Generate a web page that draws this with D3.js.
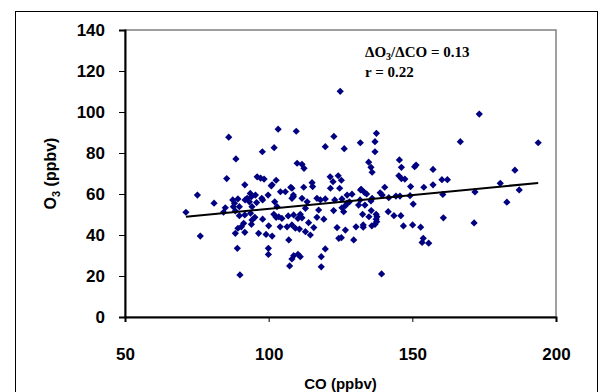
<!DOCTYPE html>
<html>
<head>
<meta charset="utf-8">
<script src="https://cdn.jsdelivr.net/npm/d3@7"></script>
<style>
  html, body { margin: 0; padding: 0; background: #fff; }
  svg { display: block; }
</style>
</head>
<body>
<div id="chart"></div>
<script>
// CO (ppbv) of each sample
const co = [
  71.2, 75.2, 76.2, 81.0, 84.9, 84.3, 86.1, 85.4, 87.5, 88.1,
  89.3, 89.8, 88.4, 89.8, 91.7, 91.3, 89.3, 88.4, 90.5, 91.7,
  89.1, 90.0, 88.6, 91.7, 92.5, 93.3, 94.2, 93.6, 94.0, 95.4,
  97.9, 99.8, 100.9, 102.1, 104.1, 102.9, 94.2, 94.0, 97.9, 100.0,
  96.5, 99.1, 101.2, 99.9, 99.9, 101.8, 103.5, 104.6, 106.4, 107.0,
  107.3, 108.1, 108.1, 105.8, 108.1, 97.8, 101.9, 103.3, 96.0, 97.2,
  98.4, 102.6, 101.2, 107.7, 124.9, 109.6, 122.7, 119.7, 126.3, 131.9,
  137.5, 137.0, 137.0, 166.7, 109.9, 111.6, 112.3, 134.8, 135.6, 136.0,
  145.5, 146.2, 150.8, 151.3, 157.2, 121.4, 124.2, 122.4, 125.3, 145.3,
  146.2, 147.4, 160.3, 162.2, 115.1, 115.3, 112.2, 121.5, 124.7, 132.2,
  140.4, 149.4, 154.0, 157.2, 173.3, 193.8, 185.7, 180.6, 160.6, 171.8,
  187.2, 182.9, 160.8, 171.5, 132.0, 133.3, 134.1, 138.8, 139.5, 144.3,
  145.7, 149.2, 131.8, 133.5, 135.6, 150.3, 141.6, 143.6, 146.0, 135.7,
  132.7, 134.9, 137.4, 137.4, 132.9, 132.9, 135.9, 137.0, 137.6, 146.9,
  150.1, 152.9, 153.8, 153.4, 155.7, 139.3, 127.3, 129.0, 141.8, 108.6,
  111.6, 113.4, 116.8, 118.0, 119.7, 123.0, 125.5, 127.3, 126.7, 128.1,
  131.3, 136.0, 112.8, 117.4, 122.6, 126.1, 125.5, 137.7, 108.7, 111.0,
  110.2, 111.6, 113.9, 116.8, 119.2, 108.1, 109.3, 110.7, 112.8, 114.5,
  115.7, 123.8, 126.7, 130.4, 124.4, 125.3, 129.6, 119.7, 118.3, 118.3,
  108.7, 110.2, 111.0, 95.8, 102.6, 106.8, 104.0, 108.6, 97.6, 87.7,
  91.8, 93.7, 95.2
];
// O3 (ppbv) of each sample
const o3 = [
  51.1, 59.5, 39.5, 55.5, 53.3, 51.1, 87.7, 67.5, 57.1, 55.5,
  57.6, 53.8, 51.7, 49.4, 49.8, 45.7, 43.3, 40.8, 44.0, 41.3,
  33.5, 20.5, 77.1, 64.5, 57.9, 56.2, 53.8, 60.3, 58.7, 59.5,
  57.1, 59.5, 64.0, 56.2, 61.1, 53.8, 47.3, 45.2, 47.7, 44.5,
  40.8, 40.3, 39.5, 33.5, 30.5, 50.1, 48.9, 48.1, 44.0, 37.6,
  24.9, 28.3, 62.8, 61.1, 57.9, 80.6, 82.6, 91.6, 68.4, 67.7,
  67.3, 66.7, 64.5, 63.3, 110.1, 90.6, 88.1, 83.1, 82.1, 85.0,
  89.6, 85.5, 80.6, 85.5, 75.0, 74.5, 72.5, 75.5, 73.0, 70.6,
  76.6, 73.0, 73.3, 74.1, 72.0, 68.4, 68.9, 66.0, 66.7, 68.9,
  67.5, 67.3, 67.0, 67.0, 65.5, 63.6, 63.3, 62.8, 62.8, 62.3,
  63.3, 63.6, 63.3, 64.5, 99.0, 85.0, 71.6, 65.2, 59.8, 61.0,
  62.0, 56.0, 48.4, 45.9, 62.0, 60.8, 60.0, 60.6, 59.5, 59.0,
  59.0, 59.2, 57.1, 54.6, 56.6, 55.1, 51.4, 49.4, 49.4, 51.9,
  50.1, 48.9, 50.1, 47.7, 44.9, 43.8, 44.5, 45.2, 46.5, 44.4,
  44.9, 43.8, 38.4, 36.4, 36.0, 21.0, 59.5, 59.9, 58.2, 58.7,
  57.9, 56.2, 57.9, 57.1, 57.6, 57.1, 57.6, 55.5, 54.3, 56.2,
  54.6, 57.9, 53.0, 52.2, 51.9, 51.4, 53.3, 48.9, 49.8, 50.1,
  48.1, 48.4, 46.0, 48.6, 47.7, 44.9, 43.3, 42.9, 41.6, 40.0,
  43.6, 43.6, 42.4, 44.0, 38.4, 38.7, 37.6, 33.2, 29.4, 24.5,
  29.9, 30.6, 29.4, 55.8, 48.6, 49.3, 44.0, 59.5, 57.9, 53.8,
  57.1, 50.6, 48.6
];

const xTicks = [50, 100, 150, 200];
const yTicks = [0, 20, 40, 60, 80, 100, 120, 140];

// linear fit shown on the chart
const fitSlope = 0.134;
const fitIntercept = 39.4;
const fitText = ['ΔO', '3', '/ΔCO = 0.13'];
const rText = 'r = 0.22';

const W = 611, H = 392;
const plot = { left: 125, right: 556, top: 30, bottom: 317 };

const svg = d3.select('#chart').append('svg')
  .attr('width', W)
  .attr('height', H);

// outer chart frame
svg.append('rect')
  .attr('x', 15.5).attr('y', 11.5)
  .attr('width', 582).attr('height', 381)
  .attr('fill', '#fff')
  .attr('stroke', '#000')
  .attr('stroke-width', 1);

const x = d3.scaleLinear().domain([50, 200]).range([plot.left, plot.right]);
const y = d3.scaleLinear().domain([0, 140]).range([plot.bottom, plot.top]);

// plot area border (grey)
svg.append('rect')
  .attr('x', plot.left).attr('y', plot.top)
  .attr('width', plot.right - plot.left)
  .attr('height', plot.bottom - plot.top)
  .attr('fill', 'none')
  .attr('stroke', '#808080')
  .attr('stroke-width', 1.5);

// axes
const xAxis = svg.append('g')
  .attr('transform', `translate(0,${plot.bottom})`)
  .call(d3.axisBottom(x).tickValues(xTicks).tickSize(5).tickPadding(26).tickFormat(d3.format('d')));
const yAxis = svg.append('g')
  .attr('transform', `translate(${plot.left},0)`)
  .call(d3.axisLeft(y).tickValues(yTicks).tickSize(6).tickPadding(14).tickFormat(d3.format('d')));

[xAxis, yAxis].forEach(g => {
  g.select('.domain').attr('stroke', '#000').attr('stroke-width', 2);
  g.selectAll('.tick line').attr('stroke', '#000').attr('stroke-width', 1);
  g.selectAll('.tick text')
    .attr('fill', '#000')
    .style('font-family', 'Arial, "Liberation Sans", sans-serif')
    .style('font-weight', 'bold')
    .style('font-size', '17px');
});

// axis titles
svg.append('text')
  .attr('x', (plot.left + plot.right) / 2)
  .attr('y', 389)
  .attr('text-anchor', 'middle')
  .style('font-family', 'Arial, "Liberation Sans", sans-serif')
  .style('font-weight', 'bold')
  .style('font-size', '15px')
  .text('CO (ppbv)');

const yTitle = svg.append('text')
  .attr('transform', `translate(56,${(plot.top + plot.bottom) / 2}) rotate(-90)`)
  .attr('text-anchor', 'middle')
  .style('font-family', 'Arial, "Liberation Sans", sans-serif')
  .style('font-weight', 'bold')
  .style('font-size', '16px');
yTitle.append('tspan').text('O');
yTitle.append('tspan').attr('dy', 4).style('font-size', '11px').text('3');
yTitle.append('tspan').attr('dy', -4).text(' (ppbv)');

// points
const pts = co.map((c, i) => ({ co: c, o3: o3[i] }));
const diamond = d3.symbol().type(d3.symbolSquare).size(26);
svg.append('g').selectAll('path')
  .data(pts)
  .enter()
  .append('path')
  .attr('d', diamond)
  .attr('transform', d => `translate(${x(d.co)},${y(d.o3)}) rotate(45)`)
  .attr('fill', '#000080');

// regression line over the data range
const [coMin, coMax] = d3.extent(co);
svg.append('line')
  .attr('x1', x(coMin)).attr('y1', y(fitIntercept + fitSlope * coMin))
  .attr('x2', x(coMax)).attr('y2', y(fitIntercept + fitSlope * coMax))
  .attr('stroke', '#000')
  .attr('stroke-width', 2);

// annotation
const ann = svg.append('text')
  .attr('x', 365).attr('y', 57)
  .style('font-family', '"Times New Roman", "Liberation Serif", serif')
  .style('font-weight', 'bold')
  .style('font-size', '15px');
ann.append('tspan').text(fitText[0]);
ann.append('tspan').attr('dy', 3).style('font-size', '10px').text(fitText[1]);
ann.append('tspan').attr('dy', -3).text(fitText[2]);

svg.append('text')
  .attr('x', 365).attr('y', 77)
  .style('font-family', '"Times New Roman", "Liberation Serif", serif')
  .style('font-weight', 'bold')
  .style('font-size', '15px')
  .text(rText);
</script>
</body>
</html>
